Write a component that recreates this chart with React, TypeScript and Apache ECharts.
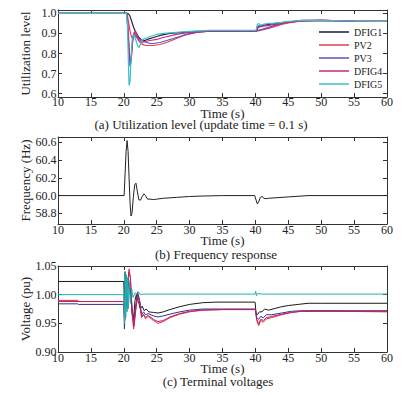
import React, { useEffect, useRef } from "react";
import * as echarts from "echarts";

// ---------- Panel (a): utilization level ----------
const utilDFIG1T = [10, 20.6, 20.9, 21.2, 21.5, 21.9, 22.3, 22.7, 23.2, 23.7, 24.5, 25.5, 27, 29, 31, 33, 40.2, 40.4, 41, 42, 43, 45, 47, 50, 55, 60];
const utilDFIG1V = [1.0, 1.0, 0.99, 0.96, 0.93, 0.9, 0.88, 0.868, 0.865, 0.872, 0.88, 0.89, 0.9, 0.905, 0.91, 0.912, 0.913, 0.935, 0.94, 0.945, 0.95, 0.958, 0.964, 0.965, 0.962, 0.96];

const utilPV2T = [10, 20.5, 20.7, 20.9, 21.1, 21.3, 21.5, 21.7, 21.9, 22.2, 22.6, 23, 23.5, 24.5, 25.5, 26.5, 28, 29.5, 31, 33, 40.2, 41, 42, 43, 44, 45, 46, 47, 50, 55, 60];
const utilPV2V = [1.0, 1.0, 0.96, 0.92, 0.89, 0.875, 0.895, 0.91, 0.895, 0.865, 0.85, 0.843, 0.84, 0.84, 0.845, 0.855, 0.875, 0.895, 0.905, 0.912, 0.912, 0.918, 0.925, 0.935, 0.945, 0.952, 0.958, 0.963, 0.965, 0.962, 0.96];

const utilPV3T = [10, 20.4, 20.6, 20.8, 20.95, 21.1, 21.3, 21.5, 21.7, 21.9, 22.2, 22.6, 23, 23.5, 24, 24.5, 25.5, 27, 29, 31, 33, 40.2, 41, 42, 43, 44, 45, 46, 47, 50, 55, 60];
const utilPV3V = [1.0, 1.0, 0.93, 0.8, 0.735, 0.76, 0.85, 0.9, 0.895, 0.88, 0.875, 0.87, 0.86, 0.855, 0.85, 0.85, 0.855, 0.87, 0.89, 0.905, 0.912, 0.913, 0.92, 0.93, 0.94, 0.95, 0.955, 0.96, 0.965, 0.965, 0.962, 0.96];

const utilDFIG4T = [10, 20.5, 20.7, 20.9, 21.05, 21.2, 21.4, 21.6, 21.8, 22.0, 22.3, 22.7, 23.2, 24, 25, 26, 28, 30, 33, 40.2, 40.4, 41, 42, 43, 45, 47, 50, 55, 60];
const utilDFIG4V = [1.0, 1.0, 0.9, 0.78, 0.76, 0.8, 0.88, 0.905, 0.91, 0.895, 0.87, 0.855, 0.86, 0.865, 0.87, 0.88, 0.895, 0.905, 0.912, 0.913, 0.93, 0.935, 0.94, 0.945, 0.955, 0.962, 0.965, 0.962, 0.96];

const utilDFIG5T = [10, 20.4, 20.55, 20.7, 20.8, 20.95, 21.1, 21.3, 21.5, 21.7, 21.9, 22.1, 22.3, 22.5, 22.8, 23.2, 24, 25, 26, 28, 30, 33, 40.1, 40.3, 40.5, 40.8, 41.2, 42, 43, 44, 45, 46, 47, 50, 55, 60];
const utilDFIG5V = [1.0, 1.0, 0.95, 0.75, 0.64, 0.66, 0.78, 0.88, 0.895, 0.88, 0.86, 0.84, 0.83, 0.845, 0.87, 0.875, 0.885, 0.895, 0.9, 0.905, 0.91, 0.915, 0.915, 0.945, 0.95, 0.94, 0.945, 0.95, 0.952, 0.955, 0.96, 0.962, 0.965, 0.965, 0.962, 0.96];

// ---------- Panel (b): frequency ----------
const freqT = [10, 20.05, 20.2, 20.35, 20.5, 20.65, 20.8, 20.95, 21.1, 21.25, 21.45, 21.65, 21.85, 22.05, 22.3, 22.55, 22.8, 23.05, 23.3, 23.6, 24, 24.5, 25, 26, 28, 30, 32, 35, 39.9, 40.1, 40.3, 40.5, 40.75, 41, 41.3, 41.6, 42, 43, 45, 48, 60];
const freqV = [60.0, 60.0, 60.25, 60.5, 60.62, 60.5, 60.2, 59.92, 59.77, 59.8, 59.98, 60.12, 60.14, 60.05, 59.95, 59.95, 59.99, 60.02, 60.0, 59.96, 59.96, 59.955, 59.96, 59.97, 59.98, 59.99, 59.995, 60.0, 60.0, 59.95, 59.905, 59.93, 59.98, 59.99, 59.97, 59.965, 59.97, 59.975, 59.985, 60.0, 60.0];
const freqTickValues = [59.8, 60.0, 60.2, 60.4, 60.6];
const freqTickLabels = ["58.8", "60.0", "60.2", "60.4", "60.6"];

// ---------- Panel (c): terminal voltages ----------
const voltDFIG1T = [10, 20.0, 20.1, 20.2, 20.35, 20.5, 20.7, 20.9, 21.1, 21.3, 21.5, 21.7, 21.9, 22.1, 22.3, 22.5, 22.8, 23.1, 23.4, 23.8, 24.5, 25.2, 26, 27, 28.5, 30, 32, 34, 39.95, 40.1, 40.3, 40.6, 41, 41.4, 42, 43, 44, 45, 46.5, 48, 50, 60];
const voltDFIG1V = [1.023, 1.023, 0.975, 1.04, 0.99, 1.02, 1.03, 1.01, 0.99, 0.965, 0.96, 0.99, 1.0, 0.99, 0.985, 0.975, 0.98, 0.972, 0.975, 0.97, 0.969, 0.968, 0.97, 0.974, 0.979, 0.983, 0.986, 0.987, 0.987, 0.968, 0.965, 0.97, 0.97, 0.975, 0.973, 0.976, 0.979, 0.981, 0.983, 0.985, 0.985, 0.985];

const voltPV2T = [10, 13, 13.1, 20.0, 20.1, 20.3, 20.5, 20.8, 21.0, 21.3, 21.5, 21.8, 22.1, 22.4, 22.7, 23.0, 23.3, 23.7, 24.5, 25.2, 26, 27, 28.5, 30, 32, 35, 40, 40.2, 40.5, 40.8, 41.2, 41.7, 42.5, 44, 45.5, 47, 52, 60];
const voltPV2V = [0.99, 0.99, 0.988, 0.988, 0.96, 1.02, 1.0, 1.045, 1.03, 0.96, 0.94, 0.97, 1.0, 0.99, 0.96, 0.965, 0.958, 0.962, 0.955, 0.95, 0.953, 0.96, 0.966, 0.97, 0.973, 0.974, 0.974, 0.955, 0.946, 0.955, 0.952, 0.958, 0.96, 0.965, 0.969, 0.971, 0.971, 0.97];

const voltPV3T = [10, 13, 13.1, 20.0, 20.1, 20.25, 20.5, 20.7, 21.0, 21.3, 21.5, 21.8, 22.1, 22.4, 22.7, 23.0, 23.3, 23.7, 24.5, 25.2, 26, 27, 28.5, 30, 32, 35, 40, 40.2, 40.5, 40.8, 41.2, 41.7, 42.5, 44, 45.5, 47, 60];
const voltPV3V = [0.984, 0.984, 0.983, 0.983, 0.94, 1.0, 0.975, 1.02, 1.01, 0.97, 0.955, 0.98, 1.005, 0.99, 0.965, 0.97, 0.965, 0.967, 0.963, 0.961, 0.963, 0.966, 0.97, 0.973, 0.975, 0.975, 0.975, 0.96, 0.957, 0.962, 0.96, 0.965, 0.965, 0.968, 0.971, 0.972, 0.972];

const voltDFIG4T = [10, 20.0, 20.15, 20.3, 20.5, 20.75, 21.0, 21.3, 21.55, 21.8, 22.1, 22.4, 22.7, 23.0, 23.3, 23.7, 24.5, 25.2, 26, 27, 28.5, 30, 32, 35, 40, 40.2, 40.5, 40.8, 41.2, 41.7, 42.5, 44, 45.5, 47, 60];
const voltDFIG4V = [0.988, 0.988, 0.955, 1.015, 1.0, 1.04, 1.03, 0.965, 0.945, 0.975, 1.0, 0.985, 0.962, 0.966, 0.96, 0.964, 0.957, 0.953, 0.955, 0.961, 0.967, 0.971, 0.973, 0.974, 0.974, 0.957, 0.949, 0.957, 0.955, 0.96, 0.962, 0.966, 0.969, 0.971, 0.971];

const voltDFIG5T = [10, 20.0, 20.1, 20.2, 20.3, 20.4, 20.5, 20.6, 20.7, 20.85, 21.0, 21.2, 21.4, 21.7, 22.0, 22.2, 22.5, 23, 30, 39.95, 40.05, 40.15, 40.3, 41, 60];
const voltDFIG5V = [1.0, 1.0, 0.95, 1.04, 0.96, 1.035, 0.97, 1.03, 0.975, 1.02, 0.985, 1.01, 0.995, 1.003, 1.002, 1.005, 1.0, 1.001, 1.001, 1.001, 1.006, 0.998, 1.002, 1.001, 1.001];

const seriesNames = ["DFIG1", "PV2", "PV3", "DFIG4", "DFIG5"];
const colorsA = ["#1e1e46", "#e04050", "#5a50c8", "#c8287a", "#3cc0c8"];
const colorsC = ["#1a1a1a", "#e0303c", "#3030a0", "#c02060", "#20b0b0"];

const zip = (t: number[], v: number[]) => t.map((x, i) => [x, v[i]]);

const FONT = "Liberation Serif";
const axisColor = "#333";

function bottomX(grid: number, nameGap: number, labelMargin: number) {
  return {
    type: "value", gridIndex: grid, min: 10, max: 60, interval: 5, position: "bottom",
    axisLine: { show: true, onZero: false, lineStyle: { color: axisColor, width: 1 } },
    axisTick: { show: true, inside: true, length: 4, lineStyle: { color: axisColor } },
    axisLabel: { fontSize: 12, lineHeight: 10, color: "#222", margin: labelMargin, fontFamily: FONT },
    splitLine: { show: false },
    name: "Time (s)", nameLocation: "middle", nameGap, nameMoveOverlap: false,
    nameTextStyle: { fontSize: 13, lineHeight: 10, color: "#222", fontFamily: FONT },
  };
}
function topX(grid: number) {
  return {
    type: "value", gridIndex: grid, min: 10, max: 60, interval: 5, position: "top",
    axisLine: { show: true, onZero: false, lineStyle: { color: axisColor, width: 1 } },
    axisTick: { show: true, inside: true, length: 4, lineStyle: { color: axisColor } },
    axisLabel: { show: false }, splitLine: { show: false },
  };
}

export default function App() {
  const ref = useRef<HTMLDivElement>(null);
  useEffect(() => {
    if (!ref.current) return;
    const chart = echarts.init(ref.current, null, { renderer: "svg" });

    const yLeftCommon = {
      axisLine: { show: true, onZero: false, lineStyle: { color: axisColor, width: 1 } },
      axisTick: { show: true, inside: true, length: 4, lineStyle: { color: axisColor } },
      splitLine: { show: false },
      nameLocation: "middle",
      nameMoveOverlap: false,
      nameTextStyle: { fontSize: 13, color: "#222", fontFamily: FONT },
    };
    const utilTicks = [0.6, 0.7, 0.8, 0.9, 1.0];
    const yLabel = { fontSize: 12, lineHeight: 10, color: "#222", fontFamily: FONT, margin: 1.5 };

    const yAxis: any[] = [
      {
        ...yLeftCommon, type: "value", gridIndex: 0, position: "left", min: 0.583, max: 1.017,
        axisTick: { ...yLeftCommon.axisTick, customValues: utilTicks },
        axisLabel: { ...yLabel, customValues: utilTicks, formatter: (v: number) => v.toFixed(1) },
        name: "Utilization level", nameGap: 26,
      },
      {
        ...yLeftCommon, type: "value", gridIndex: 1, position: "left", min: 59.68, max: 60.66,
        axisTick: { ...yLeftCommon.axisTick, customValues: freqTickValues },
        axisLabel: {
          ...yLabel, customValues: freqTickValues,
          formatter: (v: number) => {
            const i = freqTickValues.findIndex((x) => Math.abs(x - v) < 1e-6);
            return i >= 0 ? freqTickLabels[i] : v.toFixed(1);
          },
        },
        name: "Frequency (Hz)", nameGap: 26,
      },
      {
        ...yLeftCommon, type: "value", gridIndex: 2, position: "left", min: 0.9, max: 1.05, interval: 0.05,
        axisLabel: { ...yLabel, formatter: (v: number) => v.toFixed(2) },
        name: "Voltage (pu)", nameGap: 26,
      },
      {
        ...yLeftCommon, type: "value", gridIndex: 0, position: "right", min: 0.583, max: 1.017,
        axisTick: { ...yLeftCommon.axisTick, customValues: utilTicks }, axisLabel: { show: false }, name: "",
      },
      {
        ...yLeftCommon, type: "value", gridIndex: 1, position: "right", min: 59.68, max: 60.66,
        axisTick: { ...yLeftCommon.axisTick, customValues: freqTickValues }, axisLabel: { show: false }, name: "",
      },
      {
        ...yLeftCommon, type: "value", gridIndex: 2, position: "right", min: 0.9, max: 1.05, interval: 0.05,
        axisLabel: { show: false }, name: "",
      },
    ];

    const utilData = [
      zip(utilDFIG1T, utilDFIG1V), zip(utilPV2T, utilPV2V), zip(utilPV3T, utilPV3V),
      zip(utilDFIG4T, utilDFIG4V), zip(utilDFIG5T, utilDFIG5V),
    ];
    const voltData = [
      zip(voltDFIG1T, voltDFIG1V), zip(voltPV2T, voltPV2V), zip(voltPV3T, voltPV3V),
      zip(voltDFIG4T, voltDFIG4V), zip(voltDFIG5T, voltDFIG5V),
    ];

    const series: any[] = [];
    seriesNames.forEach((n, i) => {
      series.push({
        type: "line", name: n, xAxisIndex: 0, yAxisIndex: 0, data: utilData[i],
        symbol: "none", showSymbol: false, clip: true,
        lineStyle: { width: 1.2, color: colorsA[i] }, itemStyle: { color: colorsA[i] },
      });
    });
    series.push({
      type: "line", name: "Frequency", xAxisIndex: 1, yAxisIndex: 1, data: zip(freqT, freqV),
      symbol: "none", showSymbol: false, clip: true,
      lineStyle: { width: 1, color: "#222" }, itemStyle: { color: "#222" },
    });
    seriesNames.forEach((n, i) => {
      series.push({
        type: "line", name: "V-" + n, xAxisIndex: 2, yAxisIndex: 2, data: voltData[i],
        symbol: "none", showSymbol: false, clip: true,
        lineStyle: { width: 1, color: colorsC[i] }, itemStyle: { color: colorsC[i] },
      });
    });

    const capStyle = { fontSize: 13, lineHeight: 10, fontFamily: FONT, fill: "#222", align: "center", verticalAlign: "middle" };

    chart.setOption({
      animation: false,
      backgroundColor: "#fff",
      textStyle: { fontFamily: FONT },
      grid: [
        { left: 58, top: 10, width: 329, height: 87 },
        { left: 58, top: 137, width: 329, height: 87 },
        { left: 58, top: 266, width: 329, height: 86 },
      ],
      xAxis: [bottomX(0, 11.5, 0), bottomX(1, 11.5, 0.5), bottomX(2, 11.5, 0.5), topX(0), topX(1), topX(2)],
      yAxis,
      legend: {
        data: seriesNames, orient: "vertical", left: 319, top: 26, padding: 0,
        icon: "rect", itemWidth: 30, itemHeight: 1.5, itemGap: 1,
        textStyle: { fontSize: 10, lineHeight: 12, color: "#222", fontFamily: FONT },
        selectedMode: false,
      },
      series,
      graphic: [
        { type: "text", x: 201, y: 124.5, style: { ...capStyle, text: "(a) Utilization level (update time = 0.1 s)" } },
        { type: "text", x: 216, y: 254.5, style: { ...capStyle, text: "(b) Frequency response" } },
        { type: "text", x: 218, y: 381.5, style: { ...capStyle, text: "(c) Terminal voltages" } },
      ],
    });
    return () => chart.dispose();
  }, []);
  return <div ref={ref} style={{ position: "absolute", left: 0, top: 0, width: 412, height: 395 }} />;
}
